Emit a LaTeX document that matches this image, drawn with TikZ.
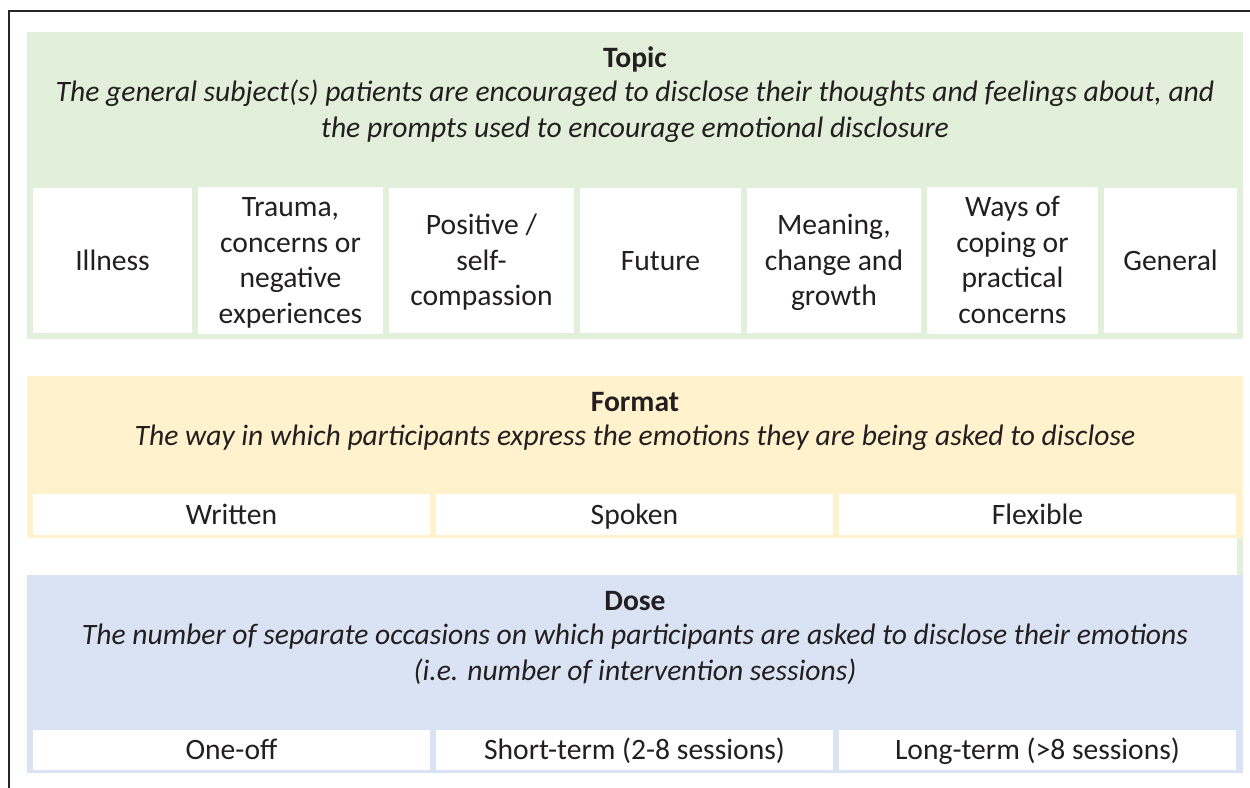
\documentclass[tikz,border=0pt]{standalone}
\usepackage{fontspec}
\setmainfont{Carlito}
\usepackage{tikz}
\usetikzlibrary{positioning}

\definecolor{topicgreen}{HTML}{E2EFDA}
\definecolor{formatyellow}{HTML}{FFF2CC}
\definecolor{doseblue}{HTML}{DAE3F3}
\definecolor{inkgray}{HTML}{231F20}

\begin{document}
\begin{tikzpicture}[
    x=0.5pt, y=-0.5pt,
    txt/.style={text=inkgray, execute at begin node=\strut, execute at end node=\strut},
    cell/.style={text=inkgray, rectangle, fill=white, inner sep=0pt, outer sep=0pt, align=flush center, font=\fontsize{14.8}{17.8}\selectfont,
        execute at begin node=\rule{0pt}{15pt}, execute at end node=\strut},
    topiccell/.style={cell, minimum width=#1, text width=#1, minimum height=72.5pt},
    rowcell/.style={cell, minimum width=198.5pt, text width=198.5pt, minimum height=18.25pt},
    heading/.style={txt, inner sep=0pt, yshift=-1.6pt, font=\fontsize{14.8}{17.8}\selectfont\bfseries},
    desc/.style={txt, inner sep=0pt, yshift=-0.8pt, text width=600pt, font=\fontsize{14.8}{17.8}\selectfont\itshape, align=flush center}
]
\useasboundingbox (0,0) rectangle (1250,788);

% Frame
\draw[line width=0.8pt, black!85] (9,788) -- (9,11) -- (1250,11);

% Panels
\fill[topicgreen] (27,32) rectangle (1243,339);
\fill[formatyellow] (27,376) rectangle (1243,538);
\fill[topicgreen] (1237,538) rectangle (1243,575);
\fill[doseblue] (27,575) rectangle (1243,773);

% Topic
\node[heading] (topic) at (635,57) {Topic};
\node[desc] (topicdesc) at (635,111) {The general subject(s) patients are encouraged to disclose their thoughts and feelings about, and\\the prompts used to encourage emotional disclosure};

\node[topiccell=79.5pt] (illness) at (112.5,260.5) {Illness};
\node[topiccell=92.5pt, right=3pt of illness] (trauma) {Trauma,\\concerns or\\negative\\experiences};
\node[topiccell=92.5pt, right=3pt of trauma] (positive) {Positive /\\self-\\compassion};
\node[topiccell=80.5pt, right=3pt of positive] (future) {Future};
\node[topiccell=87pt, right=3pt of future] (meaning) {Meaning,\\change and\\growth};
\node[topiccell=85.5pt, right=3pt of meaning] (coping) {Ways of\\coping or\\practical\\concerns};
\node[topiccell=66.5pt, right=3pt of coping] (general) {General};

% Format
\node[heading] (format) at (635,401) {Format};
\node[desc] (formatdesc) at (635,437) {The way in which participants express the emotions they are being asked to disclose};

\node[rowcell] (written) at (231.5,514.5) {Written};
\node[rowcell, right=3pt of written] (spoken) {Spoken};
\node[rowcell, right=3pt of spoken] (flexible) {Flexible};

% Dose
\node[heading] (dose) at (635,600) {Dose};
\node[desc] (dosedesc) at (635,654) {The number of separate occasions on which participants are asked to disclose their emotions\\(i.e. number of intervention sessions)};

\node[rowcell] (oneoff) at (231.5,750) {One-off};
\node[rowcell, right=3pt of oneoff] (shortterm) {Short-term (2-8 sessions)};
\node[rowcell, right=3pt of shortterm] (longterm) {Long-term (>8 sessions)};

\end{tikzpicture}
\end{document}
